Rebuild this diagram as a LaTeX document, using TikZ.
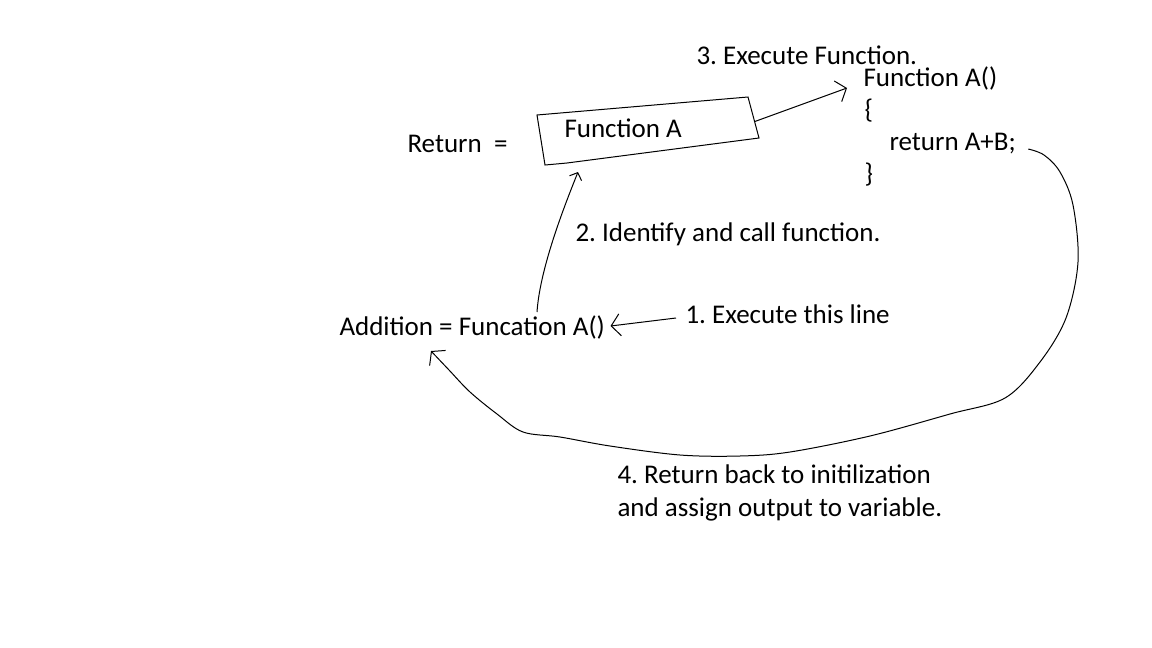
\documentclass[tikz,border=0pt]{standalone}
\usepackage{fontspec}
\setmainfont{Carlito}
\usetikzlibrary{calc, positioning}
\usetikzlibrary{arrows.meta}
\frenchspacing

\begin{document}
\begin{tikzpicture}[x=1pt, y=-1pt, line width=1pt,
        every node/.style={inner sep=0pt, anchor=base west, font=\fontsize{27}{32}\selectfont},
        arr/.style={-{Straight Barb[length=9pt,width=22pt]}},
        smallarr/.style={-{Straight Barb[length=6pt,width=13pt]}}]
        \useasboundingbox[fill=white] (0,0) rectangle (1152,648);
        %\draw[help lines] (0,0) grid[step=50] (1152,648);

        % the function body
        \node (step3) at (696,64) {3. Execute Function.};
        \node (fnhead) at (863,86) {Function A()};
        \node (lbrace) at (864,118) {\{};
        \node (ret) at (889,150) {return A+B;};
        \node (rbrace) at (864,182) {\}};

        % the hand drawn box
        \coordinate (boxtl) at (537,115);
        \coordinate (boxtr) at (748,97);
        \coordinate (boxbr) at (759,138);
        \coordinate (boxbl) at (545,165);
        \draw (boxtl) -- (boxtr) -- (boxbr) -- (567,163) -- (boxbl) -- cycle;
        \node (funcA) at (564,137) {Function A};
        \node (retvar) at (407,152) {Return\ \ =};

        \node (step2) at (575,241) {2. Identify and call function.};
        \node (addn) at (339,335) {Addition = Funcation A()};
        \node (step1) at (685,323) {1. Execute this line};
        \node (step4a) at (617,483) {4. Return back to initilization};
        \node (step4b) at (617,516) {and assign output to variable.};

        % steps
        \draw[arr] ($(step1.base west)+(-9,-5)$) -- ($(addn.base east)+(5,-9)$);
        \draw[smallarr] ($(addn.base west)+(198,-23)$) .. controls +(3,-45) and +(-12,30) .. ($(funcA.base west)+(14,35)$);
        \draw[arr] ($(boxtr)!0.6!(boxbr)$) -- ($(fnhead.base west)+(-16,2)$);

        \coordinate (back) at ($(ret.base east)+(12,-1)$);
        \coordinate (home) at ($(addn.base west)+(92,16)$);
        \draw[arr] plot[smooth, tension=0.55] coordinates {(back) (1044,155) (1060,172) (1073,205) (1078,262)
                (1066,318) (1040,362) (1005,398) (950,414) (870,436) (790,452) (740,456) (680,455)
                (610,446) (560,437) (523,432) (497,414) (470,392) (449,370) (home)};
\end{tikzpicture}
\end{document}
